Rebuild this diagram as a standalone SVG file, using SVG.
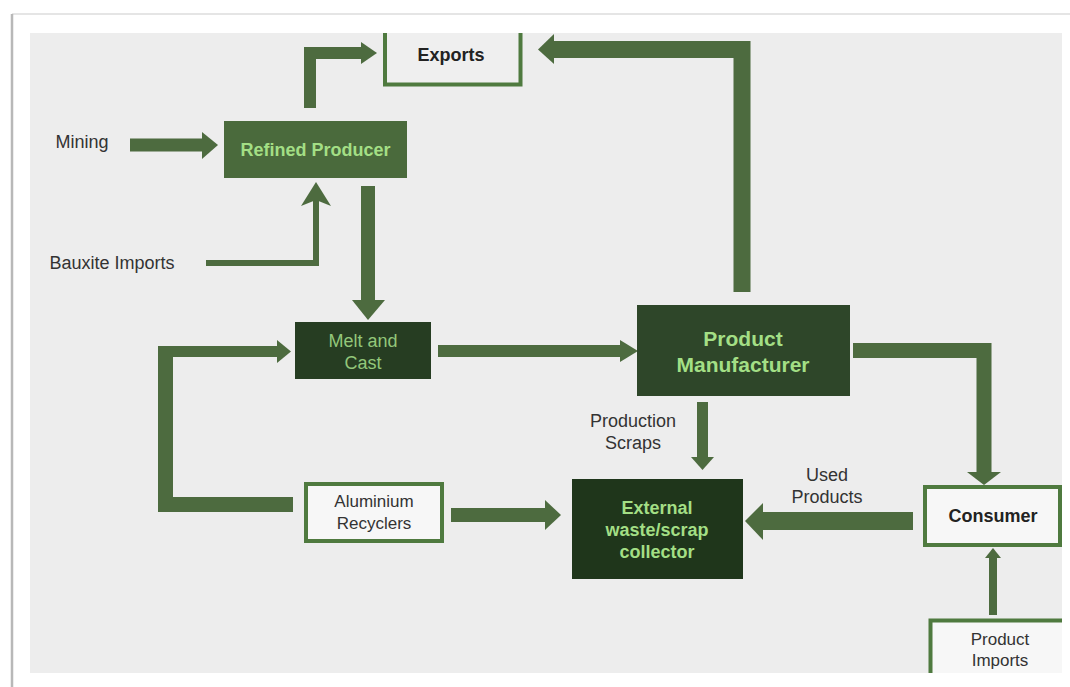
<svg xmlns="http://www.w3.org/2000/svg" width="1070" height="687" viewBox="0 0 1070 687">
<style>
.conn{fill:none;stroke:#4d6b3f;stroke-linejoin:miter;stroke-linecap:butt}
.head{fill:#4d6b3f}
.t{font-family:"Liberation Sans",Arial,sans-serif;font-size:18px;fill:#333;text-anchor:middle}
.b{font-weight:bold}
.lt{fill:#a3df85}
.mc{fill:#93c77a}
.dk{fill:#222}
.out{fill:#f7f7f7;stroke:#4f7a3f;stroke-width:4}
</style>
<defs>
<clipPath id="panelClip"><rect x="30" y="33" width="1032" height="640"/></clipPath>
</defs>
<rect x="0" y="0" width="1070" height="687" fill="#ffffff"/>
<line x1="12" y1="14" x2="1070" y2="14" stroke="#dddddd" stroke-width="1.5"/>
<line x1="12" y1="14" x2="12" y2="687" stroke="#b8b8b8" stroke-width="2.5"/>
<rect x="30" y="33" width="1032" height="640" fill="#ededed"/>

<g id="connectors">
  <!-- Mining -> Refined Producer -->
  <path class="conn" d="M130,145 H204" stroke-width="13"/>
  <polygon class="head" points="202,132 218,145 202,159"/>
  <!-- Bauxite Imports -> Refined Producer -->
  <path class="conn" d="M206,263 H316 V200" stroke-width="6"/>
  <polygon class="head" points="316,182 331,206 316,200 301,206"/>
  <!-- Refined Producer -> Exports -->
  <path class="conn" d="M310,108 V53 H363" stroke-width="12"/>
  <polygon class="head" points="361,42 377,53 361,64"/>
  <!-- Refined Producer -> Melt and Cast -->
  <path class="conn" d="M368,186 V301" stroke-width="14"/>
  <polygon class="head" points="352,300 385,300 368,320"/>
  <!-- Melt and Cast -> Product Manufacturer -->
  <path class="conn" d="M438,351 H622" stroke-width="12"/>
  <polygon class="head" points="620,340 638,351 620,362"/>
  <!-- Aluminium Recyclers -> Melt and Cast -->
  <path class="conn" d="M293,504.5 H165.5 V346" stroke-width="15"/>
  <path class="conn" d="M158,351.5 H279" stroke-width="11"/>
  <polygon class="head" points="277,340 291,351.5 277,363"/>
  <!-- Aluminium Recyclers -> External collector -->
  <path class="conn" d="M451,515 H547" stroke-width="14"/>
  <polygon class="head" points="545,500 561,515 545,530"/>
  <!-- Product Manufacturer -> Exports -->
  <path class="conn" d="M742,292 V49.5 H552" stroke-width="17"/>
  <polygon class="head" points="554,34 538,49.5 554,64"/>
  <!-- Product Manufacturer -> Consumer -->
  <path class="conn" d="M853,350.5 H984 V473" stroke-width="15"/>
  <polygon class="head" points="967,472 1001,472 984,485"/>
  <!-- Product Manufacturer -> External collector (Production Scraps) -->
  <path class="conn" d="M702.5,402 V458" stroke-width="11"/>
  <polygon class="head" points="691,457 714,457 702.5,470"/>
  <!-- Consumer -> External collector (Used Products) -->
  <path class="conn" d="M913,521 H762" stroke-width="18"/>
  <polygon class="head" points="763,503 745,521 763,540"/>
  <!-- Product Imports -> Consumer -->
  <path class="conn" d="M993,615 V556" stroke-width="8"/>
  <polygon class="head" points="985,558 993,548 1001,558"/>
</g>

<g id="mining">
  <text class="t" x="82" y="148">Mining</text>
</g>
<g id="bauxite-imports">
  <text class="t" x="112" y="269">Bauxite Imports</text>
</g>
<g id="exports" clip-path="url(#panelClip)">
  <rect x="385" y="18" width="135.5" height="66.5" fill="#efefef" stroke="#4f7a3f" stroke-width="4"/>
  <text class="t b dk" x="451" y="61">Exports</text>
</g>
<g id="refined-producer">
  <rect x="224" y="121" width="183" height="57" fill="#4a6a3c"/>
  <text class="t b lt" x="315.5" y="155.5">Refined Producer</text>
</g>
<g id="melt-and-cast">
  <rect x="295" y="322" width="136" height="57" fill="#263d22"/>
  <text class="t mc" x="363" y="347">Melt and</text>
  <text class="t mc" x="363" y="369">Cast</text>
</g>
<g id="product-manufacturer">
  <rect x="637" y="305" width="213" height="91" fill="#2e4629"/>
  <text class="t b lt" x="743" y="346" style="font-size:21px">Product</text>
  <text class="t b lt" x="743" y="372" style="font-size:21px">Manufacturer</text>
</g>
<g id="production-scraps">
  <text class="t" x="633" y="427">Production</text>
  <text class="t" x="633" y="449">Scraps</text>
</g>
<g id="used-products">
  <text class="t" x="827" y="481">Used</text>
  <text class="t" x="827" y="503">Products</text>
</g>
<g id="aluminium-recyclers">
  <rect class="out" x="306" y="484" width="136" height="57"/>
  <text class="t" x="374" y="507" style="font-size:17px">Aluminium</text>
  <text class="t" x="374" y="529" style="font-size:17px">Recyclers</text>
</g>
<g id="external-collector">
  <rect x="572" y="479" width="171" height="100" fill="#1f361b"/>
  <text class="t b lt" x="657" y="514">External</text>
  <text class="t b lt" x="657" y="536">waste/scrap</text>
  <text class="t b lt" x="657" y="558">collector</text>
</g>
<g id="consumer">
  <rect class="out" x="925" y="487" width="135" height="58" stroke-width="5"/>
  <text class="t b dk" x="993" y="522">Consumer</text>
</g>
<g id="product-imports" clip-path="url(#panelClip)">
  <rect class="out" x="930.5" y="620.5" width="200" height="100"/>
  <text class="t" x="1000" y="645" style="font-size:17px">Product</text>
  <text class="t" x="1000" y="666" style="font-size:17px">Imports</text>
</g>
</svg>
